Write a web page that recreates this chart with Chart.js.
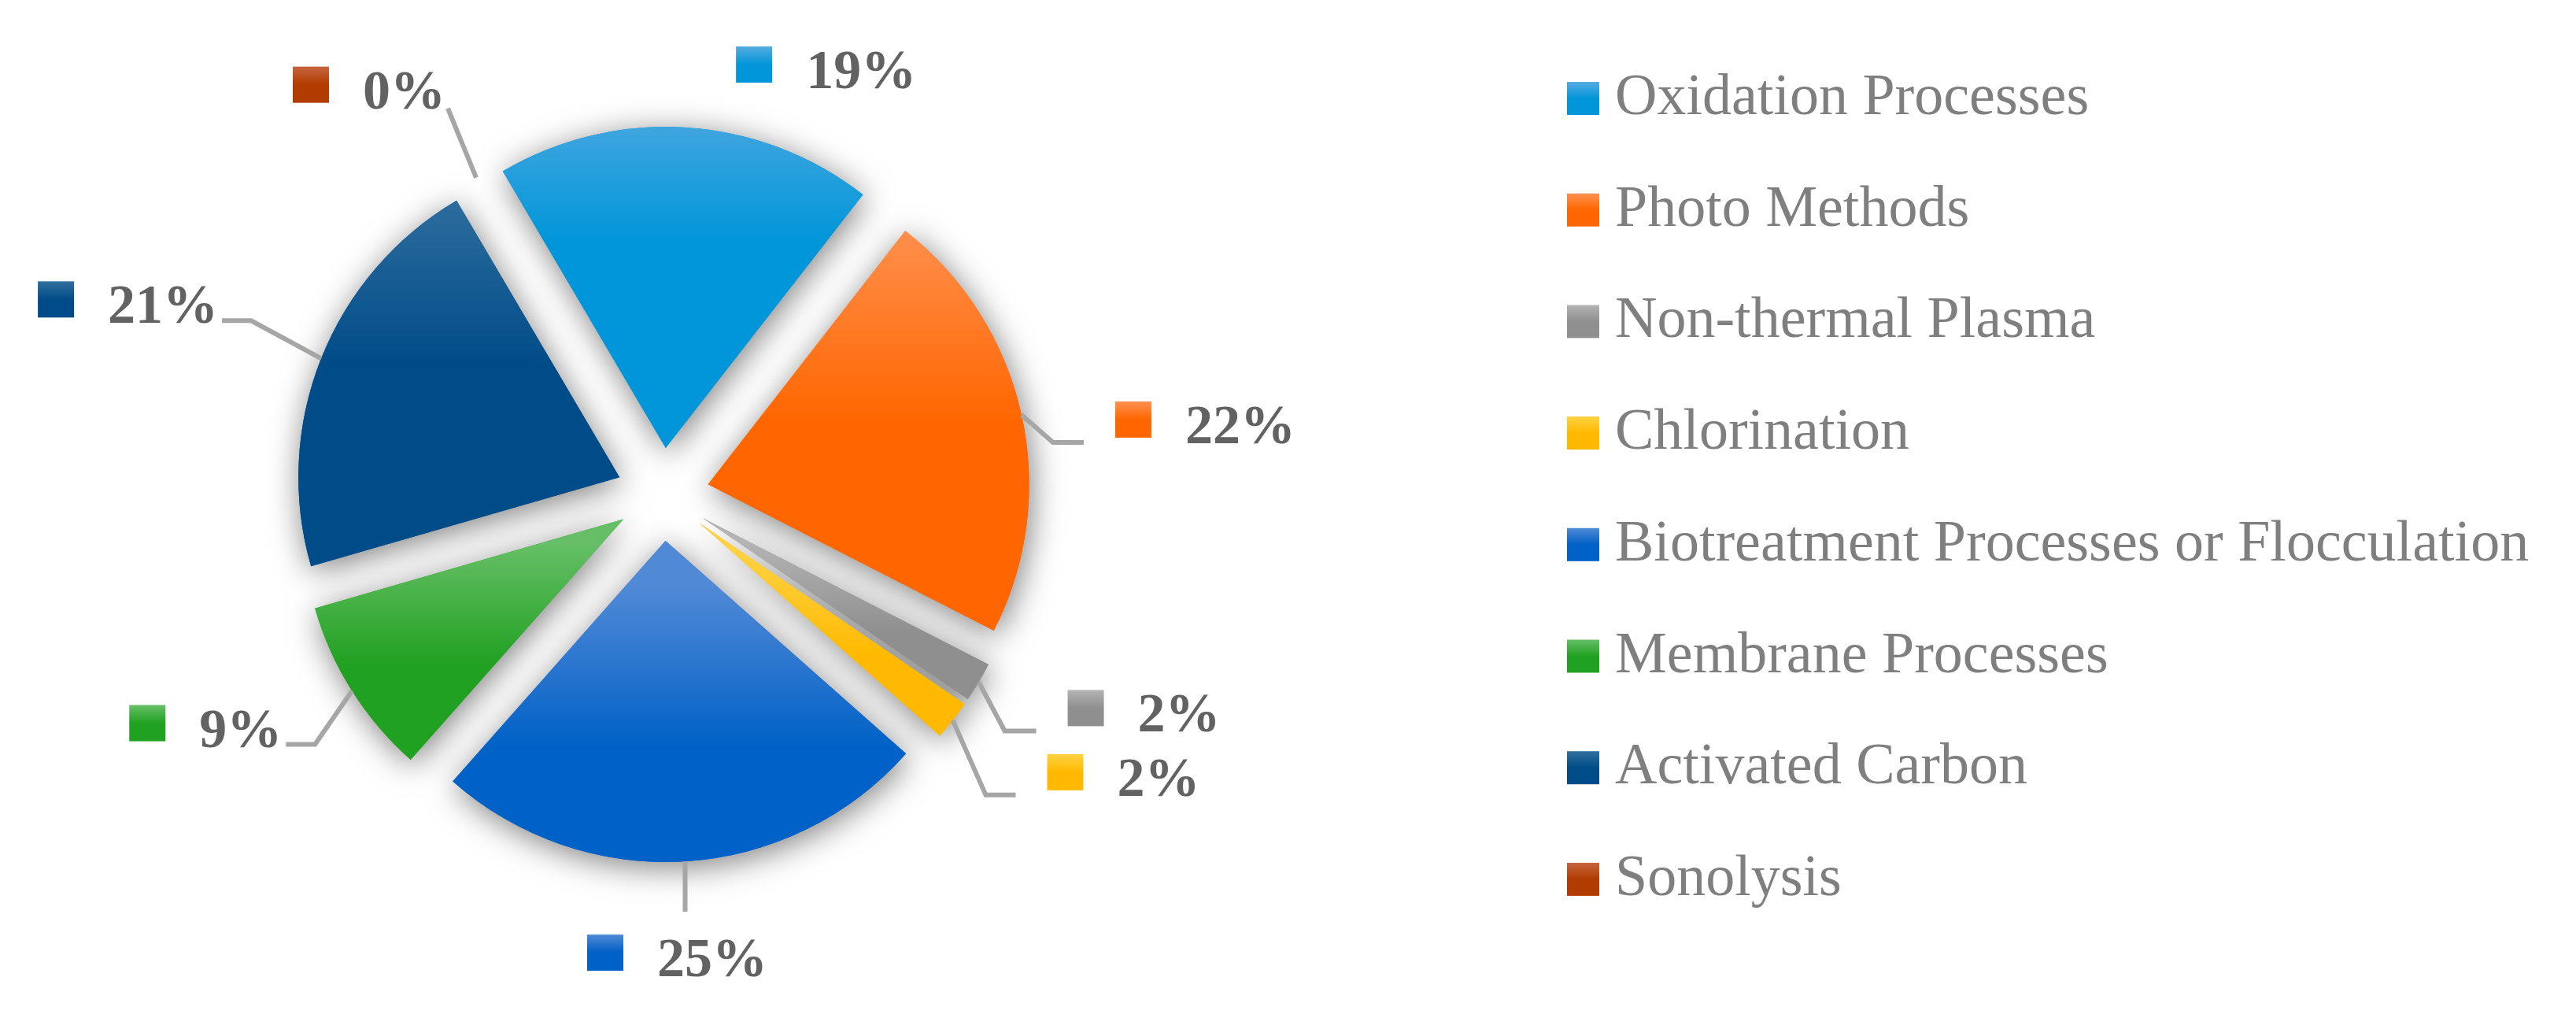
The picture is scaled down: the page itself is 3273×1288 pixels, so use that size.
<!DOCTYPE html>
<html>
<head>
<meta charset="utf-8">
<script src="https://cdn.jsdelivr.net/npm/chart.js@4.4.1/dist/chart.umd.min.js"></script>
<style>
  html, body { margin: 0; padding: 0; background: #fff; }
  #wrap { width: 3273px; height: 1288px; }
</style>
</head>
<body>
<div id="wrap"><canvas id="pieChart" width="3273" height="1288"></canvas></div>
<script>
// data (percent of studies per treatment type)
const categories = ['Oxidation Processes', 'Photo Methods', 'Non-thermal Plasma', 'Chlorination',
    'Biotreatment Processes or Flocculation', 'Membrane Processes', 'Activated Carbon', 'Sonolysis'];
const shares = [19, 22, 2, 2, 25, 9, 21, 0];

// gradient colours, light top -> base bottom
const topColors = ['#58abe1', '#ff9150', '#b4b4b4', '#ffd243', '#5089d6', '#66bf66', '#31709f', '#c6653f'];
const baseColors = ['#0096d9', '#ff6600', '#8f8f8f', '#ffb900', '#0061c6', '#21a121', '#004c88', '#b23b00'];

const makeGradient = function(ctx, i, y0, y1) {
    const g = ctx.createLinearGradient(0, y0, 0, y1);
    g.addColorStop(0, topColors[i]);
    g.addColorStop(0.5, baseColors[i]);
    g.addColorStop(1, baseColors[i]);
    return g;
};

// exploded slices with a soft drop shadow
const explodePlugin = {
    id: 'explode',
    beforeDatasetDraw(chart, args, opts) {
        const ctx = chart.ctx;
        const arcs = args.meta.data;
        const shift = opts.distance;

        const place = arc => {
            const mid = (arc.startAngle + arc.endAngle) / 2;
            return { dx: Math.cos(mid) * shift, dy: Math.sin(mid) * shift };
        };

        // first pass: shadows only
        ctx.save();
        ctx.shadowColor = 'rgba(0,0,0,0.5)';
        ctx.shadowBlur = 40;
        ctx.shadowOffsetX = 3;
        ctx.shadowOffsetY = 7;
        arcs.forEach(arc => {
            const p = place(arc);
            ctx.save();
            ctx.translate(p.dx, p.dy);
            arc.draw(ctx);
            ctx.restore();
        });
        ctx.restore();

        // second pass: gradient fills on top
        arcs.forEach((arc, i) => {
            const p = place(arc);
            let minY = arc.y, maxY = arc.y;
            for (let k = 0; k <= 24; k++) {
                const a = arc.startAngle + (arc.endAngle - arc.startAngle) * k / 24;
                const y = arc.y + Math.sin(a) * arc.outerRadius;
                minY = Math.min(minY, y);
                maxY = Math.max(maxY, y);
            }
            const saved = arc.options;
            arc.options = Object.assign({}, saved, {
                backgroundColor: makeGradient(ctx, i, minY + p.dy, maxY + p.dy)
            });
            ctx.save();
            ctx.translate(p.dx, p.dy);
            arc.draw(ctx);
            ctx.restore();
            arc.options = saved;
        });
        return false;
    }
};

// Excel-like data labels: coloured key + bold percent, with leader lines
const labelPlugin = {
    id: 'pieLabels',
    afterDatasetsDraw(chart, args, opts) {
        const ctx = chart.ctx;
        const meta = chart.getDatasetMeta(0);
        const shift = chart.options.plugins.explode.distance;
        ctx.save();
        ctx.font = opts.font;
        ctx.textBaseline = 'alphabetic';

        const drawLabel = (i, left, base) => {
            const sq = opts.keySize;
            ctx.fillStyle = makeGradient(ctx, i, base - 53, base - 53 + sq);
            ctx.fillRect(left, base - 53, sq, sq);
            ctx.fillStyle = opts.color;
            ctx.textAlign = 'left';
            ctx.fillText(shares[i] + '%', left + sq + opts.keyGap, base);
        };

        meta.data.forEach((arc, i) => {
            const cfg = opts.leaders[i];
            const mid = (arc.startAngle + arc.endAngle) / 2;
            const r = arc.outerRadius + shift;
            const sx = arc.x + Math.cos(mid) * r;
            const sy = arc.y + Math.sin(mid) * r;
            const text = shares[i] + '%';
            const w = opts.keySize + opts.keyGap + ctx.measureText(text).width;

            if (cfg.free) {
                drawLabel(i, sx + cfg.free[0], sy + cfg.free[1]);
                return;
            }
            const ex = sx + cfg.elbow[0];
            const ey = sy + cfg.elbow[1];
            const endX = ex + cfg.run;

            ctx.strokeStyle = opts.lineColor;
            ctx.lineWidth = opts.lineWidth;
            ctx.lineJoin = 'miter';
            ctx.beginPath();
            ctx.moveTo(sx, sy);
            ctx.lineTo(ex, ey);
            if (cfg.run !== 0) ctx.lineTo(endX, ey);
            ctx.stroke();

            if (cfg.side === 'right') drawLabel(i, endX + 40, ey + 1);
            else if (cfg.side === 'left') drawLabel(i, endX - 5 - w, ey + 3);
            else if (cfg.side === 'below') drawLabel(i, endX - w / 2 - 10, ey + 82);
            else if (cfg.side === 'above') drawLabel(i, endX - 3 - w, ey);
        });
        ctx.restore();
    }
};

// legend on the right, drawn on the same canvas
const sideLegend = {
    id: 'sideLegend',
    afterDraw(chart, args, opts) {
        const ctx = chart.ctx;
        ctx.save();
        ctx.font = opts.font;
        ctx.textBaseline = 'alphabetic';
        ctx.textAlign = 'left';
        categories.forEach((name, i) => {
            const base = opts.firstBaseline + i * opts.step;
            ctx.fillStyle = makeGradient(ctx, i, base - 41, base + 1);
            ctx.fillRect(opts.x, base - 41, 41, 42);
            ctx.fillStyle = opts.color;
            ctx.fillText(name, opts.x + 61, base);
        });
        ctx.restore();
    }
};

const ctx = document.getElementById('pieChart').getContext('2d');
new Chart(ctx, {
    type: 'pie',
    data: {
        labels: categories,
        datasets: [{
            data: shares,
            backgroundColor: baseColors,
            borderWidth: 0
        }]
    },
    options: {
        responsive: false,
        animation: false,
        events: [],
        rotation: -30.5,
        layout: {
            padding: { left: 434, right: 2023, top: 216, bottom: 248 }
        },
        plugins: {
            legend: { display: false },
            tooltip: { enabled: false },
            explode: { distance: 59 },
            pieLabels: {
                font: 'bold 70px "Liberation Serif"',
                color: '#626262',
                lineColor: '#a6a6a6',
                lineWidth: 6,
                keySize: 46,
                keyGap: 43,
                leaders: [
                    { free: [63, -50] },
                    { elbow: [40, 35], run: 39, side: 'right' },
                    { elbow: [33, 62], run: 40, side: 'right' },
                    { elbow: [42, 95], run: 38, side: 'right' },
                    { elbow: [0, 64], run: 0, side: 'below' },
                    { elbow: [-47, 68], run: -37, side: 'left' },
                    { elbow: [-89, -48], run: -37, side: 'left' },
                    { elbow: [-36, -88], run: 0, side: 'above' }
                ]
            },
            sideLegend: {
                font: '74px "Liberation Serif"',
                color: '#7f7f7f',
                x: 1991,
                firstBaseline: 145,
                step: 141.7
            }
        }
    },
    plugins: [explodePlugin, labelPlugin, sideLegend]
});
</script>
</body>
</html>
